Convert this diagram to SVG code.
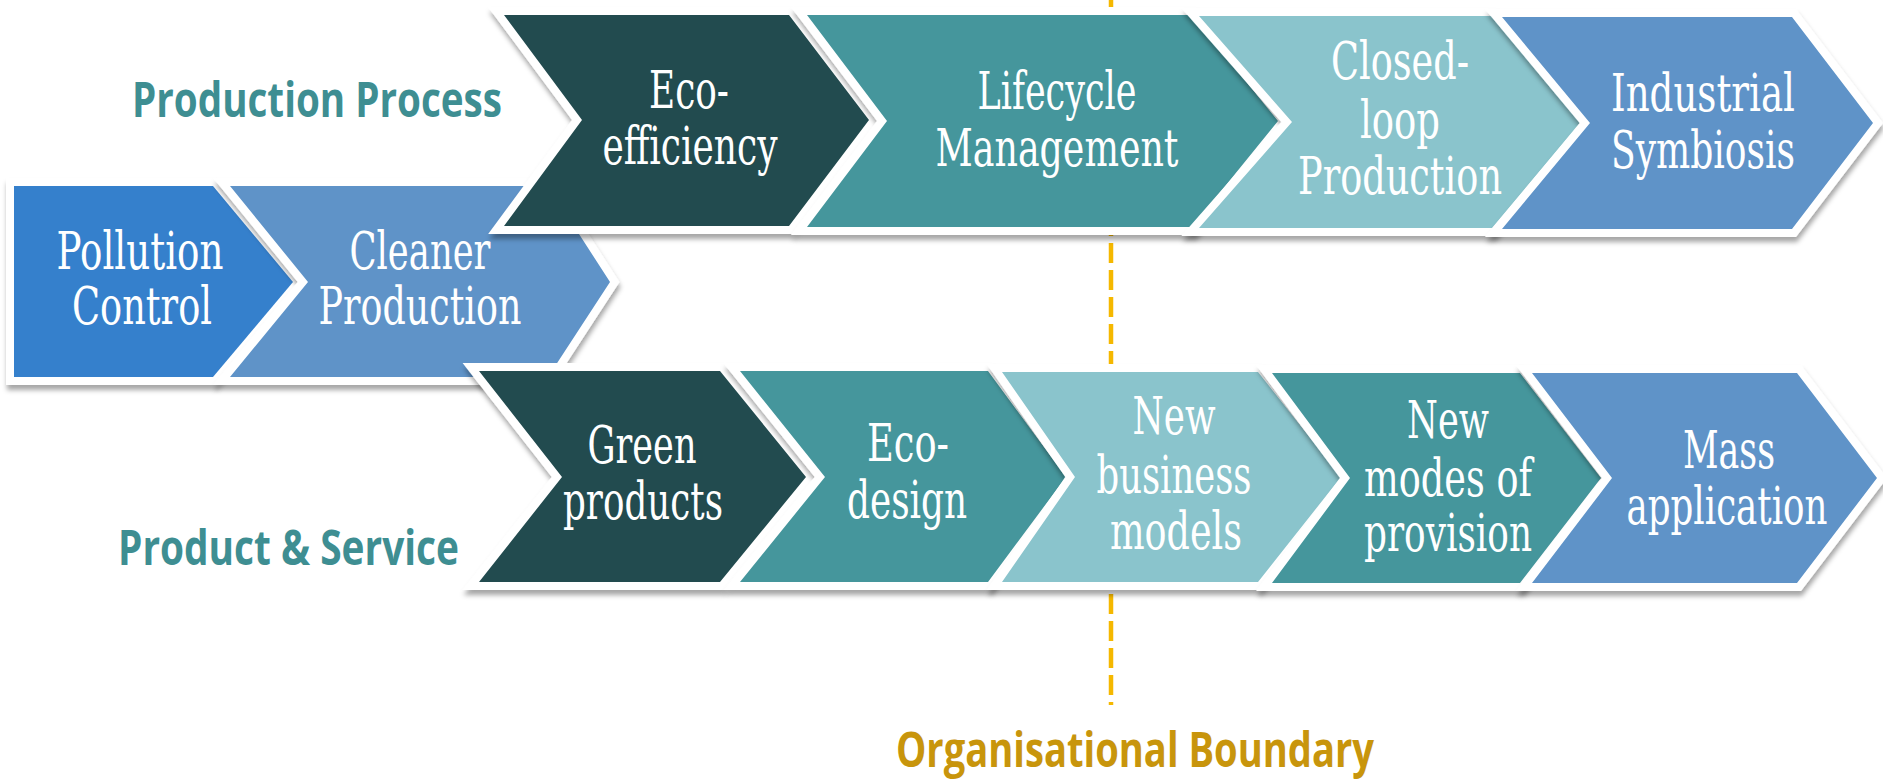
<svg xmlns="http://www.w3.org/2000/svg" width="1883" height="780" viewBox="0 0 1883 780">
<defs>
<filter id="sh" x="-10%" y="-10%" width="120%" height="130%">
<feDropShadow dx="1" dy="5" stdDeviation="2.5" flood-color="#000" flood-opacity="0.35"/>
</filter>
<style>
.chev{stroke:#fff;stroke-width:16;stroke-linejoin:miter;paint-order:stroke;filter:url(#sh)}
.dark{fill:#234B4F}
.teal{fill:#45969C}
.light{fill:#8AC4CC}
.blue{fill:#5E93C8}
.bright{fill:#3580CC}
.t{font-family:"DejaVu Serif","Liberation Serif",serif;font-size:52px;fill:#fff;text-anchor:middle}
.lab{font-family:"Open Sans","Liberation Sans",sans-serif;font-weight:700;font-size:48px}
</style>
</defs>
<rect width="1883" height="780" fill="#fff"/>
<g id="connectors">
<line x1="1111" y1="0" x2="1111" y2="705" stroke="#F5B800" stroke-width="4.5" stroke-dasharray="20 7"/>
</g>
<g id="pollution-control">
<polygon class="chev bright" points="14,186 213,186 293,282 213,377 14,377"/>
<text class="t" x="140" y="269" textLength="167" lengthAdjust="spacingAndGlyphs">Pollution</text>
<text class="t" x="142" y="324" textLength="140" lengthAdjust="spacingAndGlyphs">Control</text>
</g>
<g id="cleaner-production">
<polygon class="chev blue" points="230,186 548,186 610,282 548,377 230,377 308,282"/>
<text class="t" x="420" y="269" textLength="141" lengthAdjust="spacingAndGlyphs">Cleaner</text>
<text class="t" x="420" y="324" textLength="203" lengthAdjust="spacingAndGlyphs">Production</text>
</g>
<g id="eco-efficiency">
<polygon class="chev dark" points="504,15 789,15 869,120 789,226 504,226 582,120"/>
<text class="t" x="689" y="108" textLength="80" lengthAdjust="spacingAndGlyphs">Eco-</text>
<text class="t" x="690" y="164" textLength="175" lengthAdjust="spacingAndGlyphs">efficiency</text>
</g>
<g id="lifecycle-management">
<polygon class="chev teal" points="807,15 1192,15 1278,121 1192,227 807,227 887,121"/>
<text class="t" x="1057" y="109" textLength="159" lengthAdjust="spacingAndGlyphs">Lifecycle</text>
<text class="t" x="1057" y="166" textLength="243" lengthAdjust="spacingAndGlyphs">Management</text>
</g>
<g id="closed-loop-production">
<polygon class="chev light" points="1199,16 1492,16 1581,122 1492,228 1199,228 1292,122"/>
<text class="t" x="1400" y="79" textLength="138" lengthAdjust="spacingAndGlyphs">Closed-</text>
<text class="t" x="1400" y="138" textLength="80" lengthAdjust="spacingAndGlyphs">loop</text>
<text class="t" x="1400" y="194" textLength="204" lengthAdjust="spacingAndGlyphs">Production</text>
</g>
<g id="industrial-symbiosis">
<polygon class="chev blue" points="1502,17 1792,17 1873,123 1792,229 1502,229 1590,123"/>
<text class="t" x="1703" y="111" textLength="184" lengthAdjust="spacingAndGlyphs">Industrial</text>
<text class="t" x="1703" y="168" textLength="184" lengthAdjust="spacingAndGlyphs">Symbiosis</text>
</g>
<g id="green-products">
<polygon class="chev dark" points="479,371 720,371 806,477 720,582 479,582 562,477"/>
<text class="t" x="642" y="463" textLength="109" lengthAdjust="spacingAndGlyphs">Green</text>
<text class="t" x="643" y="519" textLength="160" lengthAdjust="spacingAndGlyphs">products</text>
</g>
<g id="eco-design">
<polygon class="chev teal" points="740,371 988,371 1066,477 988,582 740,582 825,477"/>
<text class="t" x="908" y="461" textLength="82" lengthAdjust="spacingAndGlyphs">Eco-</text>
<text class="t" x="907" y="518" textLength="120" lengthAdjust="spacingAndGlyphs">design</text>
</g>
<g id="new-business-models">
<polygon class="chev light" points="1002,372 1258,372 1341,477 1258,582 1002,582 1075,477"/>
<text class="t" x="1174" y="434" textLength="83" lengthAdjust="spacingAndGlyphs">New</text>
<text class="t" x="1174" y="493" textLength="155" lengthAdjust="spacingAndGlyphs">business</text>
<text class="t" x="1176" y="549" textLength="132" lengthAdjust="spacingAndGlyphs">models</text>
</g>
<g id="new-modes-of-provision">
<polygon class="chev teal" points="1272,373 1520,373 1601,478 1520,583 1272,583 1350,478"/>
<text class="t" x="1448" y="438" textLength="82" lengthAdjust="spacingAndGlyphs">New</text>
<text class="t" x="1448" y="496" textLength="168" lengthAdjust="spacingAndGlyphs">modes of</text>
<text class="t" x="1448" y="551" textLength="168" lengthAdjust="spacingAndGlyphs">provision</text>
</g>
<g id="mass-application">
<polygon class="chev blue" points="1532,373 1797,373 1877,478 1797,583 1532,583 1612,478"/>
<text class="t" x="1729" y="468" textLength="92" lengthAdjust="spacingAndGlyphs">Mass</text>
<text class="t" x="1727" y="524" textLength="201" lengthAdjust="spacingAndGlyphs">application</text>
</g>
<g id="labels">
<text class="lab" x="132" y="117" fill="#3E8E92" textLength="370" lengthAdjust="spacingAndGlyphs">Production Process</text>
<text class="lab" x="118" y="565" fill="#3E8E92" textLength="341" lengthAdjust="spacingAndGlyphs">Product &amp; Service</text>
<text class="lab" x="896" y="767" fill="#C8950C" textLength="478" lengthAdjust="spacingAndGlyphs">Organisational Boundary</text>
</g>
</svg>
